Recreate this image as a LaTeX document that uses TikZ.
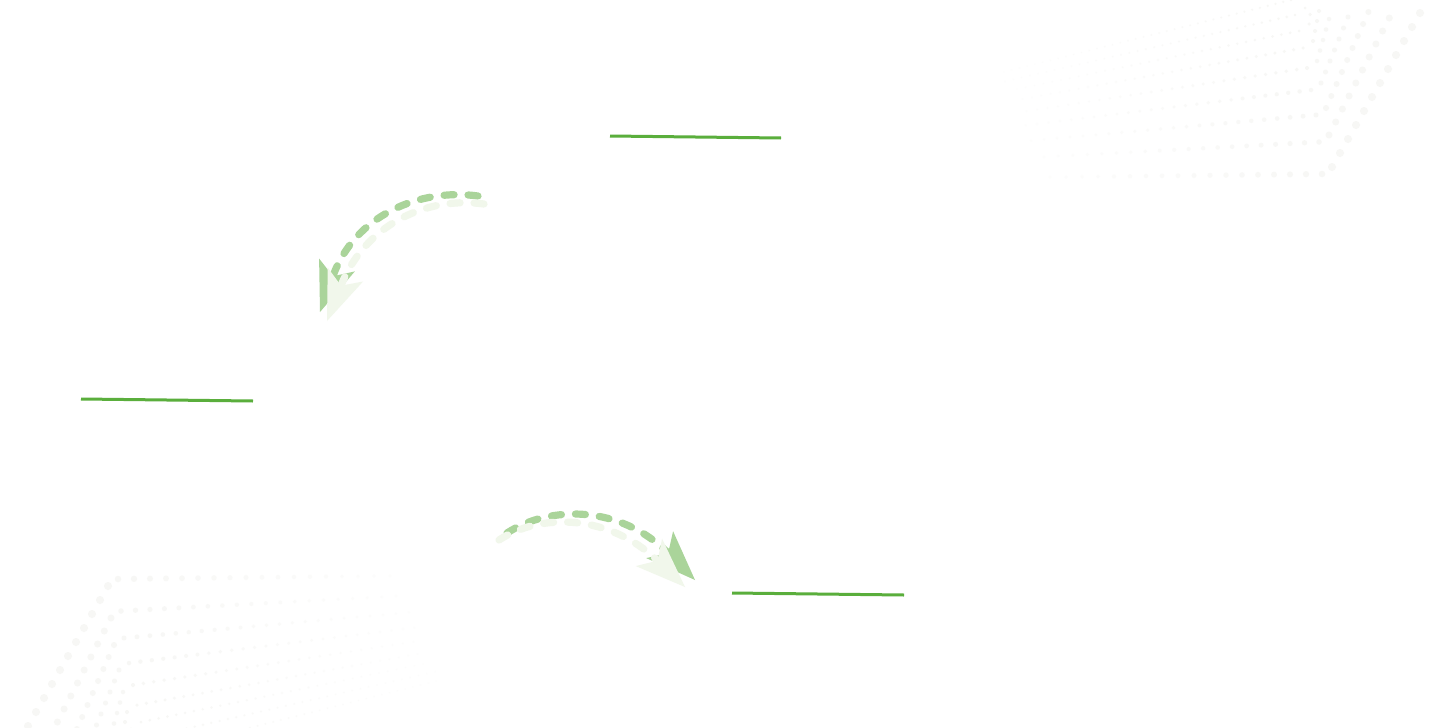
\documentclass[tikz,border=0pt]{standalone}
\usetikzlibrary{arrows.meta}
\definecolor{linegreen}{RGB}{90,174,60}
\definecolor{arrowdark}{RGB}{170,212,154}
\definecolor{arrowlight}{RGB}{241,247,235}
\definecolor{dotc}{RGB}{247,247,245}
\tikzset{
  underline/.style={draw=linegreen, line width=1.5pt},
  flowdash/.style={line width=3.6pt, line cap=round, dash pattern=on 5pt off 7pt},
  flowdark/.style={flowdash, draw=arrowdark,
    -{Stealth[length=25pt,width=19pt,inset=6pt,line width=0pt,fill=arrowdark]}},
  flowlight/.style={flowdash, draw=arrowlight,
    -{Stealth[length=25pt,width=19pt,inset=6pt,line width=0pt,fill=arrowlight]}},
  fandot/.style={fill=dotc},
}
\newcommand\dotfan{%
  \foreach \kx/\ky/\s/\n/\ax/\ay/\m/\dh/\da in {
    118/579/16/18/-8/14/12/6.5/8,
    121/611/14.5/20/-6.7/13/10/5.5/7,
    124/638/13/23/-5.3/12/9/5/6,
    129/663/11.5/26/-4.5/11/7/4.5/5,
    133/685/10.5/28/-3/10.5/5/4/4.5,
    137/705/9.5/31/-2/10/4/3.5/4,
    141/722/9/33/-1/9.5/2/3/3.5,
    145/738/8.5/36/-0.5/9/1/2.8/3,
    149/753/8/38/0/9/1/2.6/2.8}{
    \pgfmathsetmacro\len{veclen(880-\kx,570-\ky)}
    \pgfmathsetmacro\ux{(880-\kx)/\len}
    \pgfmathsetmacro\uy{(570-\ky)/\len}
    \pgfmathtruncatemacro\nn{\n-1}
    \pgfmathtruncatemacro\mm{\m-1}
    \foreach \i in {0,...,\nn}{
      \pgfmathsetmacro\f{\i/\n}
      \pgfmathsetmacro\rr{0.25*\dh*(1-0.5*\f)}
      \pgfmathsetmacro\op{1-0.8*\f}
      \pgfmathsetmacro\px{\kx+\i*\s*\ux}
      \pgfmathsetmacro\py{\ky+\i*\s*\uy}
      \fill[fandot, opacity=\op] (\px,\py) circle[radius=\rr pt];
    }
    \foreach \j in {0,...,\mm}{
      \pgfmathsetmacro\rr{0.25*\da}
      \pgfmathsetmacro\px{\kx-10+\j*\ax}
      \pgfmathsetmacro\py{\ky+7+\j*\ay}
      \fill[fandot] (\px,\py) circle[radius=\rr pt];
    }
  }%
}
\begin{document}
\begin{tikzpicture}[x=0.5pt,y=-0.5pt]
\useasboundingbox (0,0) rectangle (1440,728);
\fill[white] (0,0) rectangle (1440,728);
% dotted background fans
\begin{scope}
  \clip (0,0) rectangle (1440,728);
  \dotfan
  \begin{scope}[rotate around={180:(720,376.5)}]
    \dotfan
  \end{scope}
\end{scope}
% underline rules
\coordinate (t1a) at (610,136);
\coordinate (t1b) at (781,138);
\coordinate (t2a) at (81,399);
\coordinate (t2b) at (253,401);
\coordinate (t3a) at (732,593);
\coordinate (t3b) at (904,595);
\draw[underline] (t1a) -- (t1b);
\draw[underline] (t2a) -- (t2b);
\draw[underline] (t3a) -- (t3b);
% curved dashed arrows
\coordinate (a1s) at (478,196);
\coordinate (a1t) at (320,312);
\coordinate (a1ls) at (484,204);
\coordinate (a1lt) at (327,321);
\coordinate (a2s) at (507,533);
\coordinate (a2t) at (695,580);
\coordinate (a2ls) at (499,540);
\coordinate (a2lt) at (685,587);
\draw[flowdark] (a1s) .. controls (420,188) and (355,215) .. (a1t);
\draw[flowdark] (a2s) .. controls (550,505) and (620,505) .. (a2t);
\draw[flowlight] (a1ls) .. controls (426,196) and (365,225) .. (a1lt);
\draw[flowlight] (a2ls) .. controls (542,512) and (610,515) .. (a2lt);
\end{tikzpicture}
\end{document}
